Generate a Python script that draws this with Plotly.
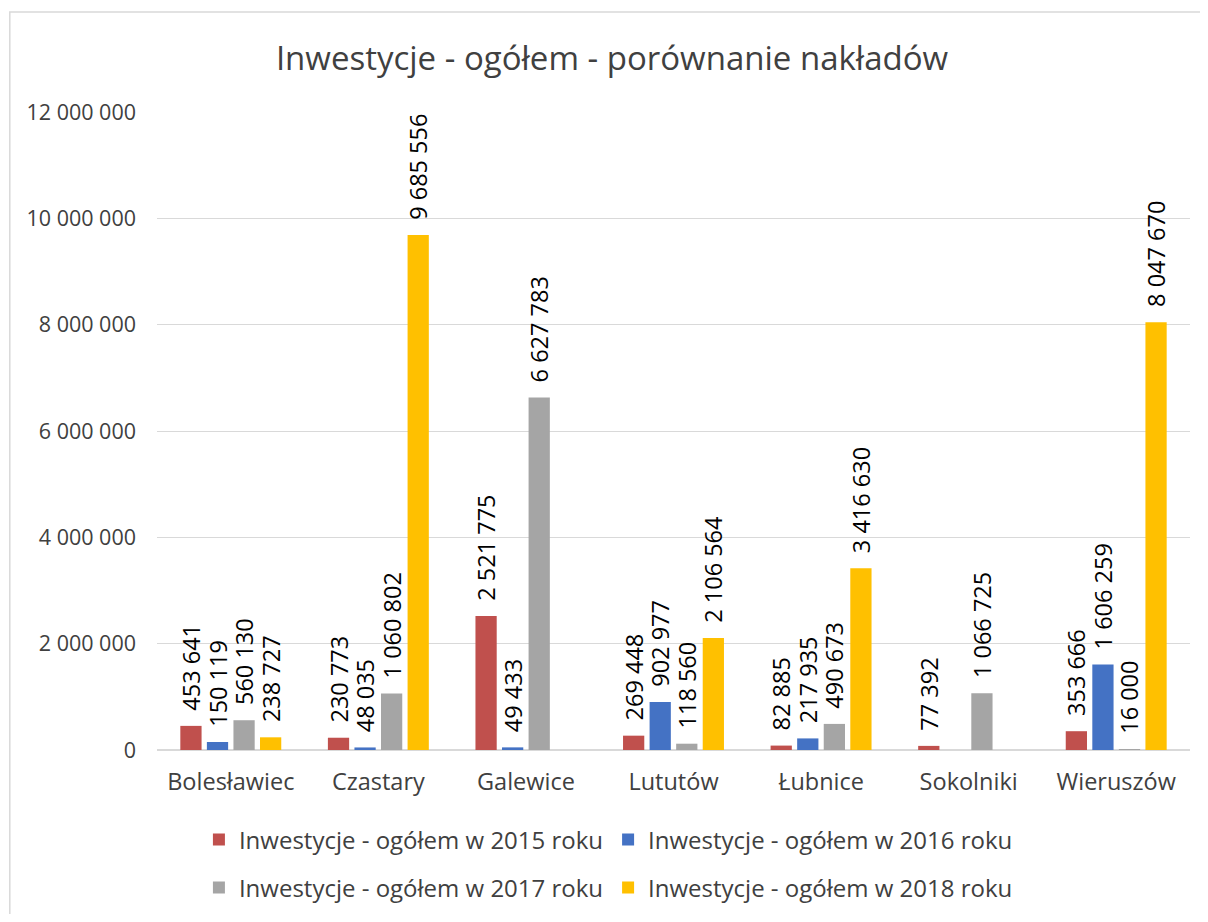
import plotly.graph_objects as go

categories = ["Bolesławiec", "Czastary", "Galewice", "Lututów", "Łubnice", "Sokolniki", "Wieruszów"]
series_names = [
    "Inwestycje - ogółem w 2015 roku",
    "Inwestycje - ogółem w 2016 roku",
    "Inwestycje - ogółem w 2017 roku",
    "Inwestycje - ogółem w 2018 roku",
]
v2015 = [453641, 230773, 2521775, 269448, 82885, 77392, 353666]
v2016 = [150119, 48035, 49433, 902977, 217935, None, 1606259]
v2017 = [560130, 1060802, 6627783, 118560, 490673, 1066725, 16000]
v2018 = [238727, 9685556, None, 2106564, 3416630, None, 8047670]
colors = ["#C0504D", "#4472C4", "#A5A5A5", "#FFC000"]
y_ticks = [0, 2000000, 4000000, 6000000, 8000000, 10000000, 12000000]

FONT = "Open Sans"
legend_ids = ["legend", "legend", "legend2", "legend2"]
fig = go.Figure()
for name, vals, col, lg in zip(series_names, [v2015, v2016, v2017, v2018], colors, legend_ids):
    fig.add_trace(go.Bar(
        x=categories, y=vals, name=name, legend=lg,
        marker=dict(color=col, line=dict(width=0)),
        texttemplate="\u00a0\u00a0%{y:,.0f}", textposition="outside", textangle=-90,
        constraintext="none",
        textfont=dict(family=FONT, size=23.5, color="#000000"),
        cliponaxis=False,
    ))

W, H = 1192, 906
legend_common = dict(orientation="h", x=0.437, xanchor="center", yanchor="middle",
                     yref="container",
                     font=dict(family=FONT, size=24, color="#404040"),
                     itemwidth=30, bgcolor="rgba(0,0,0,0)")

fig.update_layout(
    width=W, height=H,
    separators=", ",
    barmode="group", bargap=0.28, bargroupgap=0.2,
    plot_bgcolor="white", paper_bgcolor="white",
    margin=dict(l=149, r=10, t=104, b=164, autoexpand=False),
    title=dict(text="Inwestycje - ogółem - porównanie nakładów",
               x=604 / W, xanchor="center", y=1 - 50 / H, yanchor="middle",
               xref="container",
               font=dict(family=FONT, size=33, color="#404040")),
    legend=dict(y=1 - 832 / H, **legend_common),
    legend2=dict(y=1 - 880 / H, **legend_common),
    xaxis=dict(showline=True, linecolor="#d9d9d9", linewidth=1, ticks="",
               ticklabelstandoff=11,
               tickfont=dict(family=FONT, size=23.5, color="#404040")),
    yaxis=dict(range=[0, 12000000], tickvals=y_ticks, tickformat=",d",
               showgrid=True, gridcolor="#d9d9d9", gridwidth=1,
               zeroline=True, zerolinecolor="#d9d9d9", showline=False,
               ticks="", ticklabelstandoff=20,
               tickfont=dict(family=FONT, size=21.5, color="#404040")),
    shapes=[
        dict(type="rect", xref="paper", yref="paper",
             x0=-0.1425, x1=1.2, y0=-0.5, y1=1.1567,
             line=dict(color="#d9d9d9", width=1.5), fillcolor="rgba(0,0,0,0)", layer="below"),
    ],
)
fig.write_html("out.html", config={"displayModeBar": False})
